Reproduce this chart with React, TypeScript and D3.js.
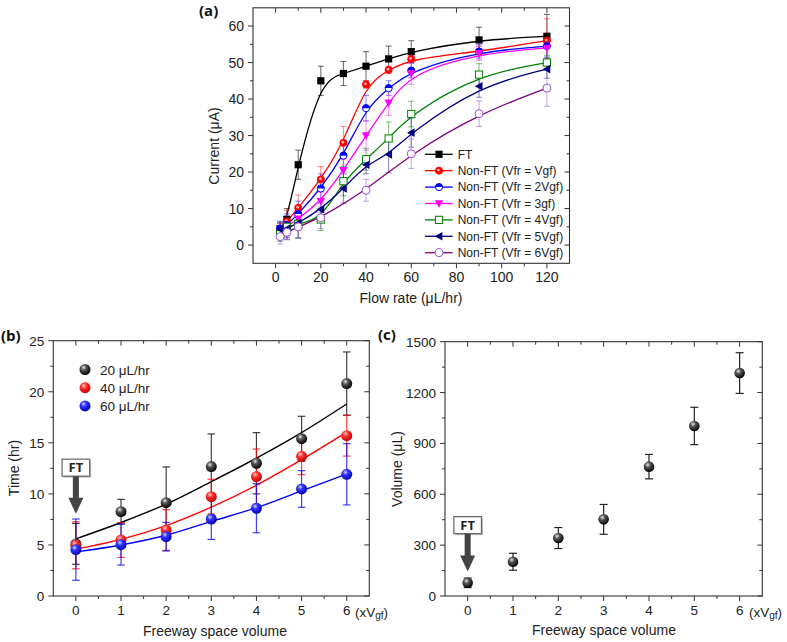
import React from 'react';
import * as d3 from 'd3';

// ---------- Panel (a) data ----------
const flowRates = [2, 5, 10, 20, 30, 40, 50, 60, 90, 120];
const flowRates6 = [2, 5, 10, 20, 40, 60, 90, 120];
const ftCurrent = [4.5, 7, 22, 45, 47, 49, 51, 53, 56.2, 57.2];
const ftErr = [1.5, 3, 4, 4, 3.3, 4, 3.5, 3, 3.5, 6];
const vgfCurrent = [4, 6.5, 10.2, 18, 28, 44, 48, 51, 53, 56];
const vgfErr = [2, 3, 3.5, 3.5, 4.5, 1, 1, 1, 1.5, 6];
const v2Current = [4.5, 5.5, 8.5, 15.5, 24.5, 37.5, 43, 47.8, 53, 54.5];
const v2Err = [2, 3, 3.5, 4, 4, 3.5, 2, 2, 2, 3];
const v3Current = [3.5, 5, 7.2, 12, 20.5, 30, 39, 47, 52.5, 54];
const v3Err = [2, 3, 3, 3, 4, 4, 3.5, 3, 2, 3];
const v4Current = [3, 5, 5.8, 7, 17.5, 23.5, 29.2, 35.9, 46.7, 50];
const v4Err = [2, 3, 4, 3, 4, 3, 4.5, 3.5, 3, 2];
const v5Current = [4.3, 4.5, 6, 9.8, 15.5, 22, 24.8, 30.8, 43.5, 48.2];
const v5Err = [2, 3, 4, 3, 4, 2.5, 5, 4, 3, 2.5];
const v6Current = [2.3, 3.5, 5, 7.5, 15, 25, 36, 43];
const v6Err = [2, 2, 3, 3, 3, 4, 3.5, 5];
const seriesNames = [
  'FT',
  'Non-FT (Vfr = Vgf)',
  'Non-FT (Vfr = 2Vgf)',
  'Non-FT (Vfr = 3gf)',
  'Non-FT (Vfr = 4Vgf)',
  'Non-FT (Vfr = 5Vgf)',
  'Non-FT (Vfr = 6Vgf)',
];
const aXTicks = [0, 20, 40, 60, 80, 100, 120];
const aYTicks = [0, 10, 20, 30, 40, 50, 60];

// ---------- Panel (b) data ----------
const fsVolumes = [0, 1, 2, 3, 4, 5, 6];
const time20 = [5.1, 8.26, 9.14, 12.67, 13.0, 15.4, 20.8];
const time20Err = [2, 1.2, 3.5, 3.2, 3.0, 2.2, 3.1];
const time40 = [4.96, 5.48, 6.46, 9.73, 11.69, 13.68, 15.7];
const time40Err = [2.3, 1.7, 2.0, 1.7, 2.7, 1.8, 2.0];
const time60 = [4.54, 5.03, 5.81, 7.54, 8.59, 10.48, 11.92];
const time60Err = [3.0, 2.0, 1.4, 2.0, 2.4, 1.8, 3.0];
const fit20 = [5.6, 7.2, 9.0, 11.2, 13.5, 16.0, 18.8];
const fit40 = [4.6, 5.55, 6.9, 8.7, 10.85, 13.35, 16.05];
const fit60 = [4.32, 5.0, 5.95, 7.3, 8.65, 10.3, 11.95];
const bLegend = ['20 μL/hr', '40 μL/hr', '60 μL/hr'];
const bYTicks = [0, 5, 10, 15, 20, 25];

// ---------- Panel (c) data ----------
const volume = [78, 202, 342, 452, 763, 1003, 1315];
const volumeErr = [28, 50, 62, 88, 72, 110, 120];
const cYTicks = [0, 300, 600, 900, 1200, 1500];

const FONT = '"Liberation Sans", Arial, Helvetica, sans-serif';
const AX = '#333';

type Scale = d3.ScaleLinear<number, number>;

function Frame(props: {
  xs: Scale; ys: Scale; xMajor: number[]; xMinor: number[]; yMajor: number[]; yMinor: number[];
  fs?: number;
}) {
  const { xs, ys, xMajor, xMinor, yMajor, yMinor } = props;
  const fs = props.fs ?? 13.5;
  const [x0, x1] = xs.range();
  const [yb, yt] = ys.range();
  const L = 5, m = 3;
  return (
    <g>
      <rect x={x0} y={yt} width={x1 - x0} height={yb - yt} fill="none" stroke={AX} strokeWidth={1.1} />
      {xMajor.map((v) => (
        <g key={'xM' + v}>
          <line x1={xs(v)} x2={xs(v)} y1={yb} y2={yb + L} stroke={AX} />
          <line x1={xs(v)} x2={xs(v)} y1={yt} y2={yt + L} stroke={AX} />
          <text x={xs(v)} y={yb + 19} textAnchor="middle" fontSize={fs} fontFamily={FONT} fill="#222">{v}</text>
        </g>
      ))}
      {xMinor.map((v) => (
        <g key={'xm' + v}>
          <line x1={xs(v)} x2={xs(v)} y1={yb} y2={yb + m} stroke={AX} />
          <line x1={xs(v)} x2={xs(v)} y1={yt} y2={yt + m} stroke={AX} />
        </g>
      ))}
      {yMajor.map((v) => (
        <g key={'yM' + v}>
          <line x1={x0 - L} x2={x0} y1={ys(v)} y2={ys(v)} stroke={AX} />
          <line x1={x1 - L} x2={x1} y1={ys(v)} y2={ys(v)} stroke={AX} />
          <text x={x0 - 9} y={ys(v) + 5} textAnchor="end" fontSize={fs} fontFamily={FONT} fill="#222">{v}</text>
        </g>
      ))}
      {yMinor.map((v) => (
        <g key={'ym' + v}>
          <line x1={x0 - m} x2={x0} y1={ys(v)} y2={ys(v)} stroke={AX} />
          <line x1={x1 - m} x2={x1} y1={ys(v)} y2={ys(v)} stroke={AX} />
        </g>
      ))}
    </g>
  );
}

function Marker({ kind, x, y, color }: { kind: string; x: number; y: number; color: string }) {
  const s = 3.6;
  switch (kind) {
    case 'square':
      return <rect x={x - s} y={y - s} width={2 * s} height={2 * s} fill={color} />;
    case 'circleFill':
      return (
        <g>
          <circle cx={x} cy={y} r={s} fill={color} stroke={color} strokeWidth={0.8} />
          <circle cx={x - 0.6} cy={y - 0.6} r={1.4} fill="#ffb0b0" />
        </g>
      );
    case 'circleHalf':
      return (
        <g>
          <circle cx={x} cy={y} r={s} fill="#fff" stroke={color} strokeWidth={1} />
          <path d={`M${x - s},${y} A${s},${s} 0 0 1 ${x + s},${y} Z`} fill={color} />
        </g>
      );
    case 'triDown':
      return <path d={`M${x - 4.3},${y - 3.2} L${x + 4.3},${y - 3.2} L${x},${y + 4.2} Z`} fill={color} />;
    case 'squareOpen':
      return <rect x={x - s} y={y - s} width={2 * s} height={2 * s} fill="#fff" stroke={color} strokeWidth={1} />;
    case 'triLeft':
      return <path d={`M${x + 3.4},${y - 4.3} L${x + 3.4},${y + 4.3} L${x - 4.2},${y} Z`} fill={color} />;
    case 'circleOpen':
      return <circle cx={x} cy={y} r={s + 0.4} fill="#fff" stroke={color} strokeWidth={1} />;
    default:
      return null;
  }
}

function FTMark({ cx, yTop, yTip }: { cx: number; yTop: number; yTip: number }) {
  const bw = 27.6, bh = 17, head = 16, hw = 7.5, sw = 3;
  const yb = yTop + bh;
  const yh = yTip - head;
  return (
    <g>
      <rect x={cx - bw / 2 + 1.5} y={yTop + 1.5} width={bw} height={bh} fill="#bbb" />
      <rect x={cx - bw / 2} y={yTop} width={bw} height={bh} fill="#fff" stroke="#666" strokeWidth={1.2} />
      <text x={cx} y={yTop + 13} textAnchor="middle" fontSize={13} fontWeight="bold" fontFamily={'"Open Sans", ' + FONT} fill="#222">FT</text>
      <path
        d={`M${cx - sw},${yb} L${cx + sw},${yb} L${cx + sw},${yh} L${cx + hw},${yh} L${cx},${yTip} L${cx - hw},${yh} L${cx - sw},${yh} Z`}
        fill="#444"
      />
    </g>
  );
}

export default function App() {
  // ---------- scales ----------
  const axs = d3.scaleLinear().domain([-10, 130]).range([253, 569.5]);
  const ays = d3.scaleLinear().domain([-5, 65]).range([263.3, 7.8]);
  const bxs = d3.scaleLinear().domain([-0.5, 6.5]).range([53.3, 369.3]);
  const bys = d3.scaleLinear().domain([0, 25]).range([596, 340.7]);
  const cxs = d3.scaleLinear().domain([-0.5, 6.5]).range([445, 762.3]);
  const cys = d3.scaleLinear().domain([0, 1500]).range([596, 341.7]);

  const aSeries = [
    { name: seriesNames[0], xs: flowRates, ys: ftCurrent, err: ftErr, color: '#000000', ecolor: '#000000', lcolor: '#000000', kind: 'square' },
    { name: seriesNames[1], xs: flowRates, ys: vgfCurrent, err: vgfErr, color: '#ff0000', ecolor: '#ff3030', lcolor: '#ff0000', kind: 'circleFill' },
    { name: seriesNames[2], xs: flowRates, ys: v2Current, err: v2Err, color: '#0000ff', ecolor: '#3030ff', lcolor: '#0000ff', kind: 'circleHalf' },
    { name: seriesNames[3], xs: flowRates, ys: v3Current, err: v3Err, color: '#ff00ff', ecolor: '#ff30ff', lcolor: '#ff00ff', kind: 'triDown' },
    { name: seriesNames[4], xs: flowRates, ys: v4Current, err: v4Err, color: '#008000', ecolor: '#209020', lcolor: '#008000', kind: 'squareOpen' },
    { name: seriesNames[5], xs: flowRates, ys: v5Current, err: v5Err, color: '#000080', ecolor: '#3030a0', lcolor: '#000080', kind: 'triLeft' },
    { name: seriesNames[6], xs: flowRates6, ys: v6Current, err: v6Err, color: '#9a50e0', ecolor: '#a060e0', lcolor: '#800080', kind: 'circleOpen' },
  ];

  const aLine = (xsv: number[], ysv: number[]) =>
    d3.line<number>().x((_, i) => axs(xsv[i])).y((d) => ays(d)).curve(d3.curveBasis)(ysv) || '';

  const bLine = d3.line<number>().x((_, i) => bxs(fsVolumes[i])).y((d) => bys(d)).curve(d3.curveMonotoneX);

  const bSeries = [
    { name: bLegend[0], ys: time20, err: time20Err, fit: fit20, color: '#000', grad: 'ballBlack' },
    { name: bLegend[1], ys: time40, err: time40Err, fit: fit40, color: '#ff0000', grad: 'ballRed' },
    { name: bLegend[2], ys: time60, err: time60Err, fit: fit60, color: '#0000ff', grad: 'ballBlue' },
  ];

  const range = (a: number, b: number, s: number) => d3.range(a, b + 1e-9, s);
  const xGf = (x: number, y: number) => (
    <text x={x} y={y} fontSize={13.5} fontFamily={FONT} fill="#222">
      (xV<tspan fontSize={10} dy={2}>gf</tspan><tspan dy={-2}>)</tspan>
    </text>
  );

  return (
    <svg width={787} height={642} style={{ position: 'absolute', left: 0, top: 0, background: '#fff' }}>
      <defs>
        <radialGradient id="ballBlack" cx="38%" cy="32%" r="70%">
          <stop offset="0%" stopColor="#e8e8e8" />
          <stop offset="35%" stopColor="#555" />
          <stop offset="100%" stopColor="#000" />
        </radialGradient>
        <radialGradient id="ballRed" cx="38%" cy="32%" r="70%">
          <stop offset="0%" stopColor="#ffd8d8" />
          <stop offset="35%" stopColor="#ff3333" />
          <stop offset="100%" stopColor="#c00000" />
        </radialGradient>
        <radialGradient id="ballBlue" cx="38%" cy="32%" r="70%">
          <stop offset="0%" stopColor="#d8d8ff" />
          <stop offset="35%" stopColor="#3333ff" />
          <stop offset="100%" stopColor="#0000b0" />
        </radialGradient>
      </defs>
      <rect x={0} y={0} width={787} height={642} fill="#fff" />

      {/* ---------------- Panel (a) ---------------- */}
      <text x={199} y={16} fontSize={15} fontWeight="bold" fontFamily={'"Open Sans", ' + FONT} fill="#111">(a)</text>
      <Frame xs={axs} ys={ays} fs={14} xMajor={aXTicks} xMinor={range(-10, 130, 20).filter((v) => v > -10 && v < 130)}
        yMajor={aYTicks} yMinor={range(-5, 65, 10).filter((v) => v > -5 && v < 65)} />
      {aSeries.map((s) => (
        <g key={s.name}>
          <path d={aLine(s.xs, s.ys)} fill="none" stroke={s.lcolor} strokeWidth={1.3} />
          {s.ys.map((v, i) => {
            const x = axs(s.xs[i]);
            return (
              <g key={i} stroke={s.ecolor} strokeOpacity={0.55} strokeWidth={1.1}>
                <line x1={x} x2={x} y1={ays(v - s.err[i])} y2={ays(v + s.err[i])} />
                <line x1={x - 3} x2={x + 3} y1={ays(v - s.err[i])} y2={ays(v - s.err[i])} />
                <line x1={x - 3} x2={x + 3} y1={ays(v + s.err[i])} y2={ays(v + s.err[i])} />
              </g>
            );
          })}
        </g>
      ))}
      {aSeries.map((s) => (
        <g key={'m' + s.name}>
          {s.ys.map((v, i) => (
            <Marker key={i} kind={s.kind} x={axs(s.xs[i])} y={ays(v)} color={s.color} />
          ))}
        </g>
      ))}
      {aSeries.map((s, i) => {
        const y = 154.3 + i * 16.4;
        return (
          <g key={'lg' + s.name}>
            <line x1={425} x2={452.7} y1={y} y2={y} stroke={s.lcolor} strokeWidth={1.3} />
            <Marker kind={s.kind} x={439} y={y} color={s.color} />
            <text x={457.7} y={y + 4.3} fontSize={12} fontFamily={FONT} fill="#222">{s.name}</text>
          </g>
        );
      })}
      <text transform="translate(219,146) rotate(-90)" textAnchor="middle" fontSize={14} fontFamily={FONT} fill="#222">Current (μA)</text>
      <text x={411} y={303} textAnchor="middle" fontSize={14} fontFamily={FONT} fill="#222">Flow rate (μL/hr)</text>

      {/* ---------------- Panel (b) ---------------- */}
      <text x={1} y={341} fontSize={15} fontWeight="bold" fontFamily={'"Open Sans", ' + FONT} fill="#111">(b)</text>
      <Frame xs={bxs} ys={bys} xMajor={fsVolumes} xMinor={range(0.5, 5.5, 1)} yMajor={bYTicks} yMinor={range(2.5, 22.5, 5)} />
      {xGf(355, 617)}
      {bSeries.map((s) => (
        <g key={s.name}>
          <path d={bLine(s.fit) || ''} fill="none" stroke={s.color} strokeWidth={1.4} />
          {s.ys.map((v, i) => {
            const x = bxs(fsVolumes[i]);
            return (
              <g key={i} stroke={s.color} strokeOpacity={0.75} strokeWidth={1.2}>
                <line x1={x} x2={x} y1={bys(v - s.err[i])} y2={bys(v + s.err[i])} />
                <line x1={x - 3.8} x2={x + 3.8} y1={bys(v - s.err[i])} y2={bys(v - s.err[i])} />
                <line x1={x - 3.8} x2={x + 3.8} y1={bys(v + s.err[i])} y2={bys(v + s.err[i])} />
              </g>
            );
          })}
        </g>
      ))}
      {bSeries.map((s) => (
        <g key={'bm' + s.name}>
          {s.ys.map((v, i) => (
            <circle key={i} cx={bxs(fsVolumes[i])} cy={bys(v)} r={5.5} fill={`url(#${s.grad})`} />
          ))}
        </g>
      ))}
      {bSeries.map((s, i) => {
        const y = 369.5 + i * 18.2;
        return (
          <g key={'bl' + s.name}>
            <circle cx={85} cy={y} r={5.5} fill={`url(#${s.grad})`} />
            <text x={100} y={y + 5} fontSize={13.5} fontFamily={FONT} fill="#222">{s.name}</text>
          </g>
        );
      })}
      <FTMark cx={bxs(0)} yTop={bys(13.4)} yTip={bys(8.05)} />
      <text transform="translate(19,468) rotate(-90)" textAnchor="middle" fontSize={14} fontFamily={FONT} fill="#222">Time (hr)</text>
      <text x={215} y={636} textAnchor="middle" fontSize={14} fontFamily={FONT} fill="#222">Freeway space volume</text>

      {/* ---------------- Panel (c) ---------------- */}
      <text x={378} y={340} fontSize={15} fontWeight="bold" fontFamily={'"Open Sans", ' + FONT} fill="#111">(c)</text>
      <Frame xs={cxs} ys={cys} xMajor={fsVolumes} xMinor={range(0.5, 5.5, 1)} yMajor={cYTicks} yMinor={range(150, 1350, 300)} />
      {xGf(749, 617)}
      {volume.map((v, i) => {
        const x = cxs(fsVolumes[i]);
        return (
          <g key={i} stroke="#222" strokeWidth={1.2}>
            <line x1={x} x2={x} y1={cys(v - volumeErr[i])} y2={cys(v + volumeErr[i])} />
            <line x1={x - 4} x2={x + 4} y1={cys(v - volumeErr[i])} y2={cys(v - volumeErr[i])} />
            <line x1={x - 4} x2={x + 4} y1={cys(v + volumeErr[i])} y2={cys(v + volumeErr[i])} />
          </g>
        );
      })}
      {volume.map((v, i) => (
        <circle key={'c' + i} cx={cxs(fsVolumes[i])} cy={cys(v)} r={5.3} fill="url(#ballBlack)" />
      ))}
      <FTMark cx={cxs(0)} yTop={cys(468)} yTip={cys(144)} />
      <text transform="translate(402,469) rotate(-90)" textAnchor="middle" fontSize={14} fontFamily={FONT} fill="#222">Volume (μL)</text>
      <text x={604} y={635} textAnchor="middle" fontSize={14} fontFamily={FONT} fill="#222">Freeway space volume</text>
    </svg>
  );
}
